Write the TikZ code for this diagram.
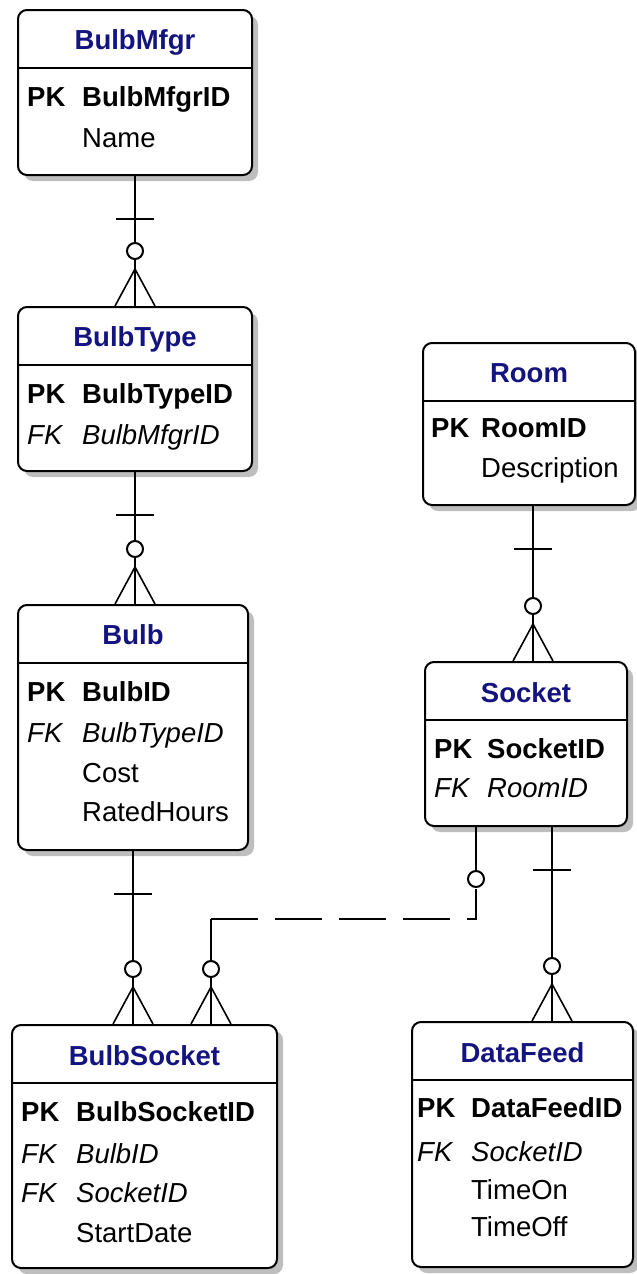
\documentclass[tikz,border=0pt]{standalone}
\usepackage{fontspec}
\setmainfont{Liberation Sans}
\usetikzlibrary{calc, shadows}
\definecolor{titleblue}{RGB}{20,20,128}
\definecolor{shadowgray}{RGB}{190,190,190}

\tikzset{
  entity/.style={draw, line width=2pt, rounded corners=9pt, fill=white, inner sep=0pt,
    drop shadow={shadow xshift=6pt, shadow yshift=-6pt, fill=shadowgray, opacity=1}},
  etitle/.style={font=\fontsize{27.5}{33}\selectfont\bfseries, text=titleblue,
    anchor=base, inner sep=0pt},
  keyrow/.style={font=\fontsize{27.5}{33}\selectfont\bfseries, anchor=base west, inner sep=0pt},
  fkrow/.style={font=\fontsize{27.5}{33}\selectfont\itshape, anchor=base west, inner sep=0pt},
  attr/.style={font=\fontsize{27.5}{33}\selectfont, anchor=base west, inner sep=0pt},
  rel/.style={line width=2pt},
  crow/.style={line width=1.6pt},
  onebar/.pic={\draw[rel] (-19,0) -- (19,0);},
  zeromany/.pic={
    \draw[crow] (-20,0) -- (0,-37) -- (20,0);
    \draw[rel, fill=white] (0,-55) circle[radius=8pt];
  },
  zeroonly/.pic={\draw[rel, fill=white] (0,0) circle[radius=8pt];}
}

\begin{document}
\begin{tikzpicture}[x=1pt, y=-1pt]
  \useasboundingbox (0,0) rectangle (637,1274);

  % entity boxes
  \node[entity, minimum width=234, minimum height=165] (mfgr)   at (135,92.5)    {};
  \node[entity, minimum width=234, minimum height=164] (btype)  at (135,389)     {};
  \node[entity, minimum width=230, minimum height=245] (bulb)   at (133,727.5)   {};
  \node[entity, minimum width=265, minimum height=243] (bsock)  at (144.5,1146.5){};
  \node[entity, minimum width=212, minimum height=162] (room)   at (529,424)     {};
  \node[entity, minimum width=202, minimum height=164] (socket) at (526,744)     {};
  \node[entity, minimum width=221, minimum height=245] (feed)   at (522.5,1144.5){};

  \foreach \e in {mfgr,btype,bulb,bsock,room,socket,feed}
    \draw[rel] ($(\e.north west)+(0,59)$) -- ($(\e.north east)+(0,59)$);

  % BulbMfgr
  \node[etitle] (mfgr-t) at ($(mfgr.north)+(0,40)$) {BulbMfgr};
  \node[keyrow] (mfgr-pk) at ($(mfgr.north west)+(10,97)$) {PK};
  \node[keyrow] (mfgr-id) at ($(mfgr.north west)+(65,97)$) {BulbMfgrID};
  \node[attr] (mfgr-name) at ($(mfgr.north west)+(65,138)$) {Name};

  % BulbType
  \node[etitle] (btype-t) at ($(btype.north)+(0,40)$) {BulbType};
  \node[keyrow] (btype-pk) at ($(btype.north west)+(10,97)$) {PK};
  \node[keyrow] (btype-id) at ($(btype.north west)+(65,97)$) {BulbTypeID};
  \node[fkrow] (btype-fk) at ($(btype.north west)+(10,138)$) {FK};
  \node[fkrow] (btype-mfgr) at ($(btype.north west)+(65,138)$) {BulbMfgrID};

  % Bulb
  \node[etitle] (bulb-t) at ($(bulb.north)+(0,40)$) {Bulb};
  \node[keyrow] (bulb-pk) at ($(bulb.north west)+(10,97)$) {PK};
  \node[keyrow] (bulb-id) at ($(bulb.north west)+(65,97)$) {BulbID};
  \node[fkrow] (bulb-fk) at ($(bulb.north west)+(10,138)$) {FK};
  \node[fkrow] (bulb-type) at ($(bulb.north west)+(65,138)$) {BulbTypeID};
  \node[attr] (bulb-cost) at ($(bulb.north west)+(65,178)$) {Cost};
  \node[attr] (bulb-hours) at ($(bulb.north west)+(65,217)$) {RatedHours};

  % BulbSocket
  \node[etitle] (bsock-t) at ($(bsock.north)+(0,41)$) {BulbSocket};
  \node[keyrow] (bsock-pk) at ($(bsock.north west)+(10,97)$) {PK};
  \node[keyrow] (bsock-id) at ($(bsock.north west)+(65,97)$) {BulbSocketID};
  \node[fkrow] (bsock-fk1) at ($(bsock.north west)+(10,139)$) {FK};
  \node[fkrow] (bsock-bulb) at ($(bsock.north west)+(65,139)$) {BulbID};
  \node[fkrow] (bsock-fk2) at ($(bsock.north west)+(10,178)$) {FK};
  \node[fkrow] (bsock-sock) at ($(bsock.north west)+(65,178)$) {SocketID};
  \node[attr] (bsock-date) at ($(bsock.north west)+(65,218)$) {StartDate};

  % Room
  \node[etitle] (room-t) at ($(room.north)+(0,40)$) {Room};
  \node[keyrow] (room-pk) at ($(room.north west)+(9,95)$) {PK};
  \node[keyrow] (room-id) at ($(room.north west)+(59,95)$) {RoomID};
  \node[attr] (room-desc) at ($(room.north west)+(59,135)$) {Description};

  % Socket
  \node[etitle] (socket-t) at ($(socket.north)+(0,41)$) {Socket};
  \node[keyrow] (socket-pk) at ($(socket.north west)+(10,97)$) {PK};
  \node[keyrow] (socket-id) at ($(socket.north west)+(63,97)$) {SocketID};
  \node[fkrow] (socket-fk) at ($(socket.north west)+(10,136)$) {FK};
  \node[fkrow] (socket-room) at ($(socket.north west)+(63,136)$) {RoomID};

  % DataFeed
  \node[etitle] (feed-t) at ($(feed.north)+(0,41)$) {DataFeed};
  \node[keyrow] (feed-pk) at ($(feed.north west)+(6,96)$) {PK};
  \node[keyrow] (feed-id) at ($(feed.north west)+(60,96)$) {DataFeedID};
  \node[fkrow] (feed-fk) at ($(feed.north west)+(6,140)$) {FK};
  \node[fkrow] (feed-sock) at ($(feed.north west)+(60,140)$) {SocketID};
  \node[attr] (feed-on) at ($(feed.north west)+(60,178)$) {TimeOn};
  \node[attr] (feed-off) at ($(feed.north west)+(60,215)$) {TimeOff};

  % relationships
  \coordinate (roomA) at ($(room.south)+(4,0)$);
  \coordinate (sockA) at ($(socket.south west)+(128,0)$);
  \coordinate (sockB) at ($(socket.south west)+(52,0)$);
  \coordinate (sockC) at ($(sockB)+(0,92)$);
  \coordinate (bsockB) at ($(bsock.north west)+(200,0)$);

  \draw[rel] (mfgr.south) -- (mfgr.south |- btype.north);
  \pic at ($(mfgr.south)+(0,43)$) {onebar};
  \pic at (mfgr.south |- btype.north) {zeromany};

  \draw[rel] (btype.south) -- (btype.south |- bulb.north);
  \pic at ($(btype.south)+(0,43)$) {onebar};
  \pic at (btype.south |- bulb.north) {zeromany};

  \draw[rel] (bulb.south) -- (bulb.south |- bsock.north);
  \pic at ($(bulb.south)+(0,43)$) {onebar};
  \pic at (bulb.south |- bsock.north) {zeromany};

  \draw[rel] (roomA) -- (roomA |- socket.north);
  \pic at ($(roomA)+(0,43)$) {onebar};
  \pic at (roomA |- socket.north) {zeromany};

  \draw[rel] (sockA) -- (sockA |- feed.north);
  \pic at ($(sockA)+(0,43)$) {onebar};
  \pic at (sockA |- feed.north) {zeromany};

  % optional link Socket -- BulbSocket
  \draw[rel] (sockB) -- ($(sockB)+(0,52)$);
  \pic at ($(sockB)+(0,52)$) {zeroonly};
  \draw[rel, dash pattern=on 47pt off 17pt] (bsockB |- sockC) -| ($(sockB)+(0,62)$);
  \draw[rel] (bsockB |- sockC) -- (bsockB);
  \pic at (bsockB) {zeromany};
\end{tikzpicture}
\end{document}
